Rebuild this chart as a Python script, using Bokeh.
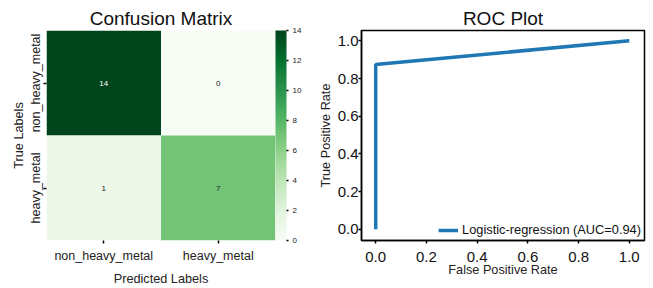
from bokeh.plotting import figure
from bokeh.models import (ColumnDataSource, FactorRange, Range1d, LinearColorMapper,
                          ColorBar, FixedTicker, Legend, LegendItem, PrintfTickFormatter)
from bokeh.layouts import row
from bokeh.palettes import Greens256
from bokeh.transform import transform
from bokeh.core.properties import value
from bokeh.embed import file_html
from bokeh.resources import INLINE

# ---- data ----
class_labels = ["non_heavy_metal", "heavy_metal"]
true_labels = ["non_heavy_metal", "non_heavy_metal", "heavy_metal", "heavy_metal"]
pred_labels = ["non_heavy_metal", "heavy_metal", "non_heavy_metal", "heavy_metal"]
counts = [14, 0, 1, 7]
fpr = [0.0, 0.0, 1.0]
tpr = [0.0, 0.875, 1.0]
auc = 0.94
cbar_ticks = [0, 2, 4, 6, 8, 10, 12, 14]
roc_ticks = [0.0, 0.2, 0.4, 0.6, 0.8, 1.0]

FONT = "Liberation Sans"
palette = list(reversed(Greens256))
mapper = LinearColorMapper(palette=palette, low=min(counts), high=max(counts))

# ---- confusion matrix ----
src = ColumnDataSource(dict(
    x=pred_labels, y=true_labels, v=counts,
    t=[str(c) for c in counts],
    tc=["white" if c > (max(counts) + min(counts)) / 2 else "#262626" for c in counts],
))

p1 = figure(width=315, height=288, output_backend="svg", toolbar_location=None,
            x_range=FactorRange(*class_labels, range_padding=0),
            y_range=FactorRange(*reversed(class_labels), range_padding=0),
            title="Confusion Matrix",
            min_border_left=46, min_border_top=29, min_border_bottom=46, min_border_right=40)
p1.rect(x="x", y="y", width=1, height=1, source=src,
        fill_color=transform("v", mapper), line_color=None)
p1.text(x="x", y="y", text="t", text_color="tc", source=src,
        text_align="center", text_baseline="middle", text_font_size="8px",
        text_font=value(FONT))
p1.outline_line_color = None
p1.grid.visible = False
p1.title.align = "center"
p1.title.text_line_height = 0.8
p1.title.standoff = 4
p1.title.text_font = FONT
p1.title.text_font_size = "19px"
p1.title.text_font_style = "normal"
p1.title.text_color = "#111111"
for ax in (p1.xaxis, p1.yaxis):
    ax.axis_line_color = None
    ax.major_tick_in = 0
    ax.major_tick_out = 3
    ax.major_tick_line_color = "black"
    ax.major_tick_line_width = 1.5
    ax.major_label_text_font = FONT
    ax.major_label_text_font_size = "12.5px"
    ax.major_label_text_color = "#222222"
    ax.axis_label_text_font = FONT
    ax.axis_label_text_font_size = "12.7px"
    ax.axis_label_text_font_style = "normal"
    ax.axis_label_text_color = "#222222"
p1.xaxis.axis_label = "Predicted Labels"
p1.yaxis.axis_label = "True Labels"
p1.yaxis.major_label_orientation = "vertical"
p1.xaxis.major_label_standoff = 5
p1.xaxis.axis_label_standoff = 6
p1.yaxis.major_label_standoff = 1
p1.yaxis.axis_label_standoff = 0

cb = ColorBar(color_mapper=mapper, ticker=FixedTicker(ticks=cbar_ticks),
              width=11, padding=0, margin=3, label_standoff=4,
              major_tick_in=0, major_tick_out=2, major_tick_line_color="black",
              major_tick_line_width=1.5,
              major_label_text_font=FONT, major_label_text_font_size="8px",
              major_label_text_color="#222222",
              bar_line_color=None, border_line_color=None, background_fill_color=None)
p1.add_layout(cb, "right")

# ---- ROC ----
p2 = figure(width=338, height=288, output_backend="svg", toolbar_location=None,
            x_range=Range1d(-0.056, 1.06), y_range=Range1d(-0.06, 1.055),
            title="ROC Plot",
            min_border_left=43, min_border_top=30, min_border_bottom=46, min_border_right=9)
r = p2.line(fpr, tpr, line_color="#1f77b4", line_width=3.5)
p2.grid.visible = False
p2.outline_line_color = "black"
p2.outline_line_width = 1.5
p2.title.align = "center"
p2.title.text_line_height = 0.8
p2.title.standoff = 4
p2.title.text_font = FONT
p2.title.text_font_size = "19px"
p2.title.text_font_style = "normal"
p2.title.text_color = "#111111"
for ax in (p2.xaxis, p2.yaxis):
    ax.ticker = FixedTicker(ticks=roc_ticks)
    ax.formatter = PrintfTickFormatter(format="%.1f")
    ax.axis_line_color = "black"
    ax.axis_line_width = 1.5
    ax.major_tick_in = 0
    ax.major_tick_out = 3
    ax.major_tick_line_color = "black"
    ax.major_tick_line_width = 1.5
    ax.minor_tick_line_color = None
    ax.major_label_text_font = FONT
    ax.major_label_text_font_size = "15px"
    ax.major_label_text_color = "#111111"
    ax.axis_label_text_font = FONT
    ax.axis_label_text_font_size = "12.7px"
    ax.axis_label_text_font_style = "normal"
    ax.axis_label_text_color = "#222222"
p2.xaxis.axis_label = "False Positive Rate"
p2.yaxis.axis_label = "True Positive Rate"
p2.xaxis.major_label_standoff = 8
p2.xaxis.axis_label_standoff = -2
p2.yaxis.major_label_standoff = 0
p2.yaxis.axis_label_standoff = 2

leg = Legend(items=[LegendItem(label=f"Logistic-regression (AUC={auc:.2f})", renderers=[r])],
             location="bottom_right", border_line_color=None, background_fill_alpha=0,
             label_text_font=FONT, label_text_font_size="12.8px", label_text_color="#111111",
             glyph_width=20, glyph_height=8, label_standoff=4, padding=3, margin=3,
             spacing=0)
p2.add_layout(leg)

layout = row(p1, p2)
open("out.html", "w").write(file_html(layout, INLINE))
